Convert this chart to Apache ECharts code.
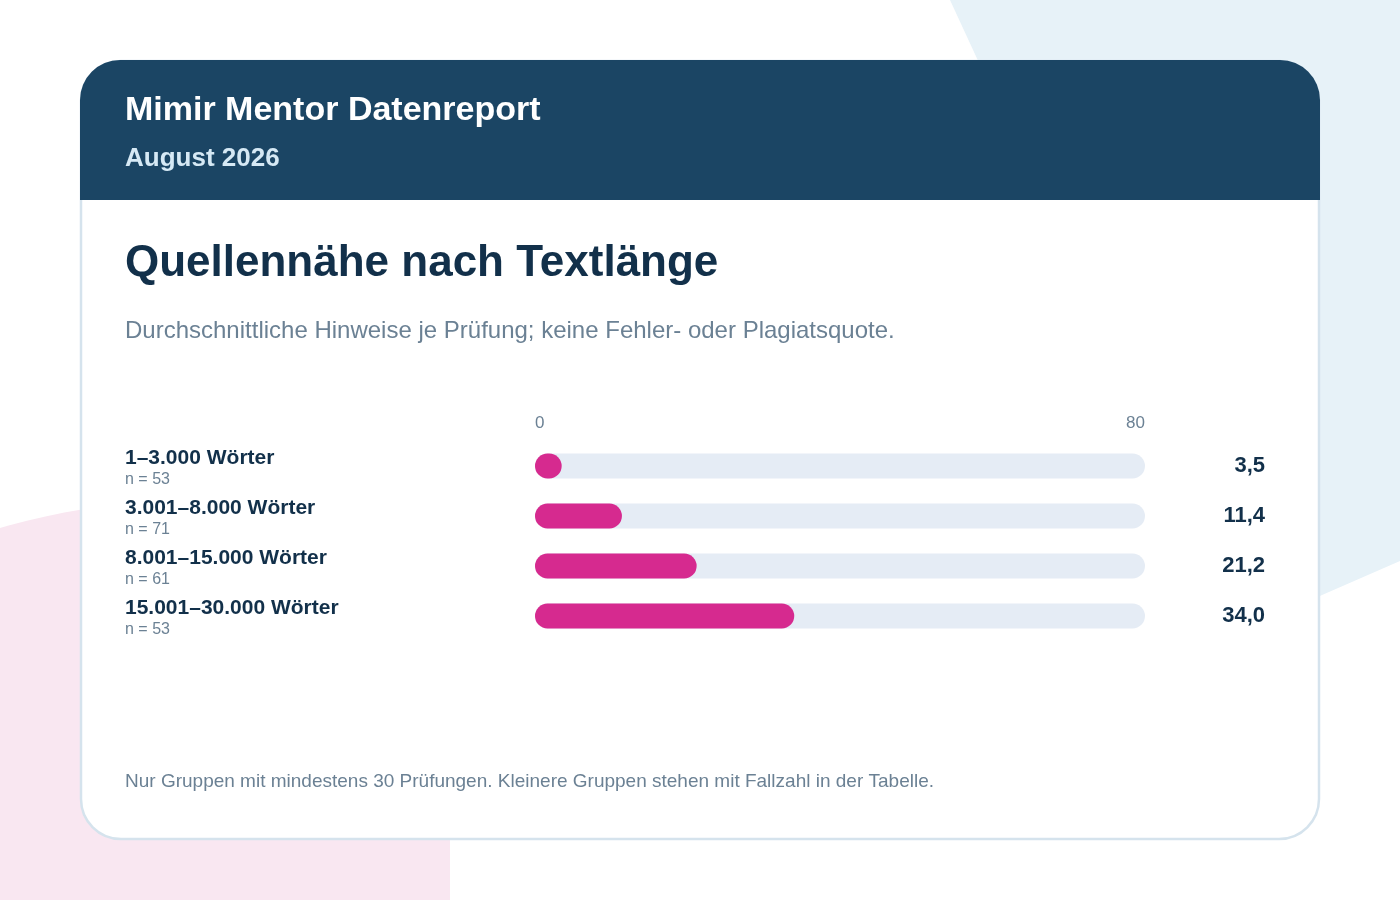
<!DOCTYPE html>
<html>
<head>
<meta charset="utf-8">
<title>Quellennähe nach Textlänge</title>
<script src="https://cdn.jsdelivr.net/npm/echarts@6/dist/echarts.min.js"></script>
<style>
  html, body { margin: 0; padding: 0; background: #ffffff; }
  #chart { width: 1400px; height: 900px; }
</style>
</head>
<body>
<div id="chart"></div>
<script>
// Daten
var categories = ['1–3.000 Wörter', '3.001–8.000 Wörter', '8.001–15.000 Wörter', '15.001–30.000 Wörter'];
var counts = [53, 71, 61, 53];            // Fallzahl je Gruppe
var values = [3.5, 11.4, 21.2, 34.0];     // Hinweise je Prüfung
var axisMin = 0, axisMax = 80;

var FONT = '"Liberation Sans", Arial, Helvetica, sans-serif';
var NAVY = '#12304a';
var GREY = '#6b8194';

function fmt(v) {
    return v.toFixed(1).replace('.', ',');
}

// rosa Hintergrundfläche unten links (Ellipsenbogen)
function pinkShape() {
    var pts = [[-300, 900]];
    for (var i = 0; i <= 40; i++) {
        var t = Math.PI + (Math.PI / 2) * i / 40;
        pts.push([200 + 500 * Math.cos(t), 835 + 335 * Math.sin(t)]);
    }
    pts.push([450, 500], [450, 900]);
    return pts;
}

var chart = echarts.init(document.getElementById('chart'));

chart.setOption({
    backgroundColor: '#ffffff',
    animation: false,
    textStyle: { fontFamily: FONT },
    graphic: [
        // Hintergrundflächen
        {
            type: 'polygon', z: -10, silent: true,
            shape: { points: [[950, 0], [1400, 0], [1400, 561], [1180, 657], [1010, 130]] },
            style: { fill: '#e7f2f8' }
        },
        {
            type: 'polygon', z: -10, silent: true,
            shape: { points: pinkShape() },
            style: { fill: '#f9e7f1' }
        },
        // Karte
        {
            type: 'rect', z: -5, silent: true,
            shape: { x: 81, y: 61, width: 1238, height: 778, r: 40 },
            style: { fill: '#ffffff', stroke: '#d5e3ed', lineWidth: 2.5 }
        },
        {
            type: 'rect', z: -4, silent: true,
            shape: { x: 80, y: 60, width: 1240, height: 140, r: [40, 40, 0, 0] },
            style: { fill: '#1b4564' }
        },
        // Kopfzeile
        {
            type: 'text', left: 125, top: 94,
            style: { text: 'Mimir Mentor Datenreport', fill: '#ffffff', font: 'bold 34px ' + FONT }
        },
        {
            type: 'text', left: 125, top: 146,
            style: { text: 'August 2026', fill: '#d6e9f5', font: 'bold 26px ' + FONT }
        },
        // Titel
        {
            type: 'text', left: 125, top: 242,
            style: { text: 'Quellennähe nach Textlänge', fill: NAVY, font: 'bold 44px ' + FONT }
        },
        {
            type: 'text', left: 125, top: 319,
            style: { text: 'Durchschnittliche Hinweise je Prüfung; keine Fehler- oder Plagiatsquote.', fill: GREY, font: '24px ' + FONT }
        },
        // Fußnote
        {
            type: 'text', left: 125, top: 772,
            style: { text: 'Nur Gruppen mit mindestens 30 Prüfungen. Kleinere Gruppen stehen mit Fallzahl in der Tabelle.', fill: GREY, font: '19px ' + FONT }
        }
    ],
    grid: {
        left: 535,
        right: 255,
        top: 441,
        height: 200
    },
    xAxis: {
        type: 'value',
        position: 'top',
        min: axisMin,
        max: axisMax,
        interval: axisMax - axisMin,
        axisLine: { show: false },
        axisTick: { show: false },
        splitLine: { show: false },
        axisLabel: {
            color: GREY,
            fontSize: 17,
            margin: 9,
            alignMinLabel: 'left',
            alignMaxLabel: 'right'
        }
    },
    yAxis: [
        {
            type: 'category',
            inverse: true,
            data: categories,
            axisLine: { show: false },
            axisTick: { show: false },
            axisLabel: {
                align: 'left',
                margin: 410,
                formatter: function (val, idx) {
                    return '{a|' + val + '}\n{b|n = ' + counts[idx] + '}';
                },
                rich: {
                    a: { fontSize: 21, fontWeight: 'bold', color: NAVY, fontFamily: FONT, lineHeight: 28 },
                    b: { fontSize: 16, color: GREY, fontFamily: FONT, lineHeight: 16 }
                }
            }
        },
        {
            type: 'category',
            inverse: true,
            position: 'right',
            data: values.map(fmt),
            axisLine: { show: false },
            axisTick: { show: false },
            axisLabel: {
                align: 'right',
                margin: 120,
                fontSize: 22,
                fontWeight: 'bold',
                color: NAVY,
                fontFamily: FONT,
                padding: [4, 0, 0, 0]
            }
        }
    ],
    series: [
        {
            name: 'Hinweise je Prüfung',
            type: 'bar',
            data: values,
            barWidth: 25,
            showBackground: true,
            backgroundStyle: { color: '#e5ecf5', borderRadius: 12.5 },
            itemStyle: { color: '#d62a8f', borderRadius: 12.5 },
            silent: true
        }
    ]
});
</script>
</body>
</html>
